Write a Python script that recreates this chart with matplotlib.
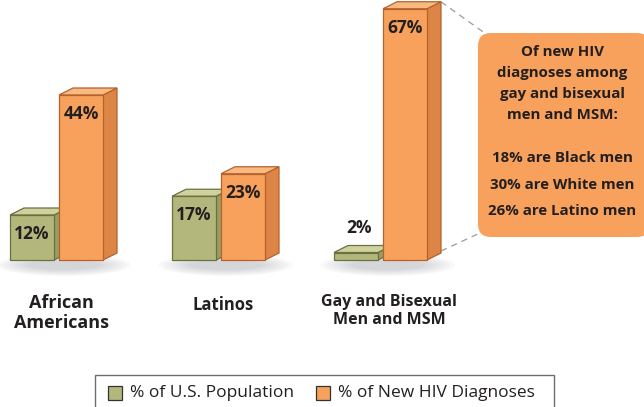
import matplotlib.pyplot as plt
from matplotlib.patches import Polygon, Rectangle, FancyBboxPatch, Ellipse

plt.rcParams['font.family'] = ['Open Sans', 'DejaVu Sans']

groups = ['African\nAmericans', 'Latinos', 'Gay and Bisexual\nMen and MSM']
population = [12, 17, 2]
diagnoses = [44, 23, 67]
legend_labels = ['% of U.S. Population', '% of New HIV Diagnoses']
callout_lines = ['Of new HIV', 'diagnoses among', 'gay and bisexual', 'men and MSM:',
                 '', '18% are Black men', '30% are White men', '26% are Latino men']

# colours: front, top, side, edge
GREEN = ('#b3b77c', '#cfd29c', '#9a9d62', '#6b7040')
ORANGE = ('#f7a15c', '#f9b982', '#dc8547', '#b5622b')
TEXT = '#231f20'

W, H = 644, 407
fig = plt.figure(figsize=(W / 100, H / 100), dpi=100)
ax = fig.add_axes([0, 0, 1, 1])

# pixel layout: x pixel = 10 + 162*x, y pixel = 260 - 3.75*y
XS, YS = 162.0, 3.75
ax.set_xlim(-10 / XS, (W - 10) / XS)
ax.set_ylim(-(H - 260) / YS, 260 / YS)
ax.axis('off')

def px(x):
    return (x - 10) / XS

def py(y):
    return (260 - y) / YS

BAR_W = 44 / XS
PITCH = 49 / XS
DX = 14 / XS
DY = 7 / YS

def bar3d(x0, h, colors):
    front, top, side, edge = colors
    ax.add_patch(Polygon([(x0 + BAR_W, 0), (x0 + BAR_W + DX, DY), (x0 + BAR_W + DX, h + DY),
                          (x0 + BAR_W, h)], closed=True, fc=side, ec=edge, lw=0.9, zorder=3))
    ax.add_patch(Polygon([(x0, h), (x0 + DX, h + DY), (x0 + BAR_W + DX, h + DY),
                          (x0 + BAR_W, h)], closed=True, fc=top, ec=edge, lw=0.9, zorder=3))
    ax.add_patch(Rectangle((x0, 0), BAR_W, h, fc=front, ec=edge, lw=0.9, zorder=3))

# soft shadows under each group
for i in range(len(groups)):
    cx = i + (PITCH + BAR_W + DX) / 2
    for k in range(8):
        ax.add_patch(Ellipse((cx, py(265)), (135 - k * 9) / XS, (22 - k * 1.8) / YS,
                             fc='#7d828c', ec='none', alpha=0.045, zorder=1))

for i, (p, d) in enumerate(zip(population, diagnoses)):
    gx = i
    ox = i + PITCH
    bar3d(gx, p, GREEN)
    bar3d(ox, d, ORANGE)
    if p >= 5:
        ax.text(gx + BAR_W / 2, p - 19 / YS, f'{p}%', ha='center', va='center',
                fontsize=12.5, fontweight='bold', color=TEXT, zorder=5)
    else:
        ax.text(gx + BAR_W / 2 + 0.02, p + 24 / YS, f'{p}%', ha='center', va='center',
                fontsize=12.5, fontweight='bold', color=TEXT, zorder=5)
    ax.text(ox + BAR_W / 2, d - 19 / YS, f'{d}%', ha='center', va='center',
            fontsize=12.5, fontweight='bold', color=TEXT, zorder=5)

# category labels
label_pos = [(61, 313, 13), (223, 305, 12), (389, 311, 11.5)]
for name, (x, y, fs) in zip(groups, label_pos):
    ax.text(px(x), py(y), name, ha='center', va='center', fontsize=fs,
            fontweight='bold', color=TEXT, linespacing=1.15)

# callout box
bx0, by0, bx1, by1 = 478, 33, 650, 237
ax.add_patch(FancyBboxPatch((px(bx0), py(by1)), px(bx1) - px(bx0), py(by0) - py(by1),
                            boxstyle='round,pad=0,rounding_size=0.08',
                            mutation_aspect=XS / YS, fc=ORANGE[0], ec='none', zorder=2))
tall_x = 2 + PITCH + BAR_W + DX
tall_top = diagnoses[2] + DY
ax.plot([tall_x, px(486)], [tall_top, py(34)], ls=(0, (5, 4)), color='#9a9a9a', lw=0.9, zorder=2)
ax.plot([tall_x, px(480)], [DY + 2 / YS, py(233)], ls=(0, (5, 4)), color='#9a9a9a', lw=0.9, zorder=2)

line_y = [52, 73, 94, 115, 136, 158, 185, 211]
for txt, y in zip(callout_lines, line_y):
    if txt:
        ax.text(px(562), py(y), txt, ha='center', va='center', fontsize=10.8,
                fontweight='bold', color=TEXT, zorder=4)

# legend
ax.add_patch(Rectangle((px(95), py(420)), px(554) - px(95), py(375) - py(420),
                       fc='white', ec='#6d6e71', lw=1.0, zorder=2))
for (x, colors), lab in zip([(108, GREEN), (316, ORANGE)], legend_labels):
    ax.add_patch(Rectangle((px(x), py(400)), px(x + 14) - px(x), py(386) - py(400),
                           fc=colors[0], ec='#333333', lw=0.9, zorder=3))
    ax.text(px(x + 22), py(393), lab, ha='left', va='center', fontsize=12.5,
            color=TEXT, zorder=3)

fig.savefig('out.png', dpi=100)
